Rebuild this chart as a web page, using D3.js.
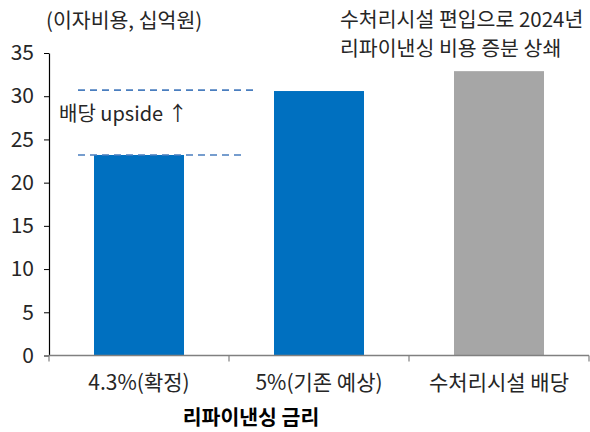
<!DOCTYPE html>
<html><head><meta charset="utf-8">
<script src="https://cdn.jsdelivr.net/npm/d3@7"></script>
<style>
body{margin:0;background:#fff;}
svg{display:block;font-family:"Noto Sans CJK KR","Noto Sans",sans-serif;}
</style></head>
<body><div id="chart"></div>
<script>
const categories = ["4.3%(확정)", "5%(기존 예상)", "수처리시설 배당"];
const values = [23.2, 30.6, 32.9];
const barColors = ["#0070C0", "#0070C0", "#A6A6A6"];
const yTicks = [0, 5, 10, 15, 20, 25, 30, 35];
const dashLevels = [30.7, 23.2];
const unitLabel = "(이자비용, 십억원)";
const xTitle = "리파이낸싱 금리";
const upsideLabel = "배당 upside ↑";
const noteLines = ["수처리시설 편입으로 2024년", "리파이낸싱 비용 증분 상쇄"];

const W = 590, H = 432;
const svg = d3.select("#chart").append("svg").attr("width", W).attr("height", H);

const x = d3.scaleBand().domain(categories).range([49, 589]).paddingInner(0.5).paddingOuter(0.25);
const y = d3.scaleLinear().domain([0, 35]).range([355.5, 53]);

const textColor = "#262626";

// bars
svg.selectAll("rect.bar").data(values).join("rect")
  .attr("class", "bar")
  .attr("x", (d, i) => x(categories[i]))
  .attr("width", x.bandwidth())
  .attr("y", d => y(d))
  .attr("height", d => y(0) - y(d))
  .attr("fill", (d, i) => barColors[i]);

// y axis
const yAxis = svg.append("g").attr("transform", "translate(49,0)")
  .call(d3.axisLeft(y).tickValues(yTicks).tickSize(5).tickPadding(10).tickSizeOuter(0));
yAxis.select(".domain").attr("stroke", "#000").attr("stroke-width", 1.2);
yAxis.selectAll(".tick line").attr("stroke", "#000");
yAxis.selectAll("text").attr("font-size", 21).attr("fill", textColor)
  .attr("font-family", "'Noto Sans CJK KR',sans-serif");

// x axis
const xAxisG = svg.append("g").attr("transform", `translate(0,${y(0)})`);
xAxisG.append("line").attr("x1", 49).attr("x2", 589).attr("stroke", "#808080").attr("stroke-width", 1.5);
const edges = [x.range()[0]].concat(categories.map(c => x(c) + x.bandwidth() / 2 + x.step() / 2));
xAxisG.selectAll("line.tk").data(edges).join("line").attr("class", "tk")
  .attr("x1", d => d).attr("x2", d => d).attr("y1", 0).attr("y2", 6)
  .attr("stroke", "#808080").attr("stroke-width", 1.2);
xAxisG.selectAll("text").data(categories).join("text")
  .attr("x", d => x(d) + x.bandwidth() / 2)
  .attr("y", 34)
  .attr("text-anchor", "middle")
  .attr("font-size", 21).attr("fill", textColor)
  .text(d => d);

// x title
svg.append("text").attr("x", 251).attr("y", 425).attr("text-anchor", "middle")
  .attr("font-size", 20.5).attr("font-weight", "bold").attr("fill", "#000").text(xTitle);

// unit label
svg.append("text").attr("x", 46).attr("y", 28).attr("font-size", 20.5).attr("fill", textColor).text(unitLabel);

// dashed lines
const dashStart = x(categories[0]) - 16;
const dashEnds = [x(categories[1]) - 18, x(categories[1]) - 28];
svg.selectAll("line.dash").data(dashLevels).join("line").attr("class", "dash")
  .attr("x1", dashStart).attr("x2", (d, i) => dashEnds[i])
  .attr("y1", d => y(d)).attr("y2", d => y(d))
  .attr("stroke", "#4A7EBF").attr("stroke-width", 1.6).attr("stroke-dasharray", "7,5");

// upside label
svg.append("text").attr("x", 59).attr("y", 121).attr("font-size", 20).attr("fill", textColor).text(upsideLabel);

// note
svg.selectAll("text.note").data(noteLines).join("text").attr("class", "note")
  .attr("x", 340).attr("y", (d, i) => 27 + i * 29)
  .attr("font-size", 20.5).attr("fill", textColor).text(d => d);
</script></body></html>
